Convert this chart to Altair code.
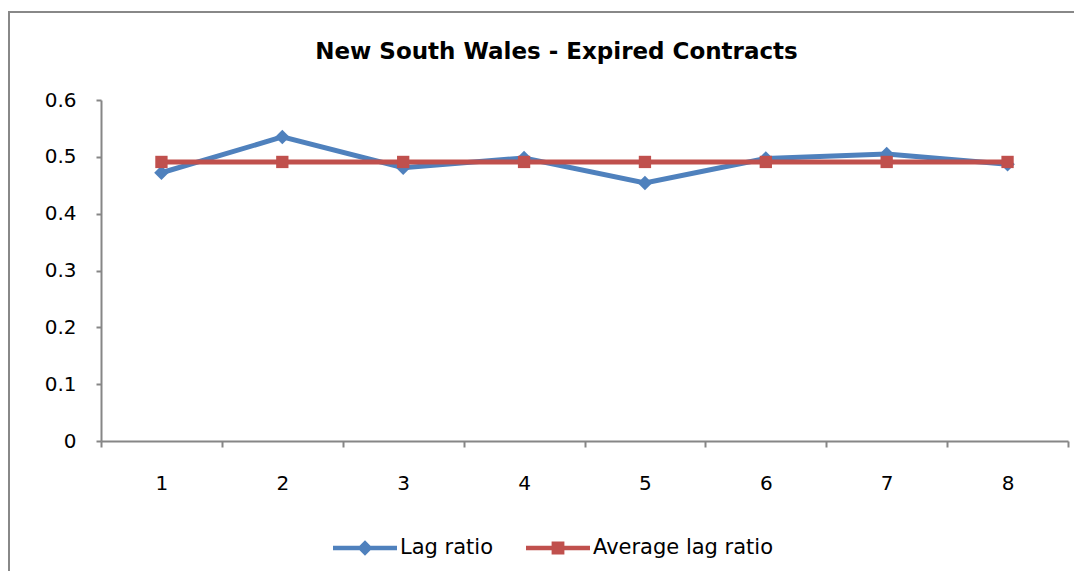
import altair as alt
import pandas as pd

periods = ["1", "2", "3", "4", "5", "6", "7", "8"]
lag_ratio = [0.472, 0.535, 0.481, 0.498, 0.454, 0.497, 0.505, 0.487]
avg_lag_ratio = [0.491] * 8
series_names = ["Lag ratio", "Average lag ratio"]
series_colors = ["#4F81BD", "#C0504D"]
y_ticks = [0, 0.1, 0.2, 0.3, 0.4, 0.5, 0.6]

rows = []
for p, v in zip(periods, lag_ratio):
    rows.append({"period": p, "value": v, "series": series_names[0]})
for p, v in zip(periods, avg_lag_ratio):
    rows.append({"period": p, "value": v, "series": series_names[1]})
df = pd.DataFrame(rows)

FONT = "DejaVu Sans"
DIAMOND = "M0,-1L1,0L0,1L-1,0Z"
SQUARE = "M-0.85,-0.85L0.85,-0.85L0.85,0.85L-0.85,0.85Z"
LEG_DIAMOND = "M-1,-0.07L1,-0.07L1,0.07L-1,0.07Z M0,-0.24L0.24,0L0,0.24L-0.24,0Z"
LEG_SQUARE = "M-1,-0.07L1,-0.07L1,0.07L-1,0.07Z M-0.2,-0.2L0.2,-0.2L0.2,0.2L-0.2,0.2Z"
marker_paths = [DIAMOND, SQUARE]

x_enc = alt.X(
    "period:O",
    sort=periods,
    scale=alt.Scale(paddingInner=0, paddingOuter=0, round=False),
    axis=alt.Axis(
        title=None, labelAngle=0, tickBand="extent", tickSize=6,
        labelPadding=26, labelFontSize=20, labelFont=FONT, labelColor="#000",
        domainColor="#868686", domainWidth=2, tickColor="#868686", tickWidth=2,
        grid=False,
    ),
)
y_enc = alt.Y(
    "value:Q",
    scale=alt.Scale(domain=[0, 0.6], nice=False),
    axis=alt.Axis(
        title=None, values=y_ticks, format=".1~f", tickSize=5,
        labelPadding=20, labelFontSize=20, labelFont=FONT, labelColor="#000",
        domainColor="#868686", domainWidth=2, tickColor="#868686", tickWidth=2,
        grid=False,
    ),
)
color_scale = alt.Scale(domain=series_names, range=series_colors)
color_plain = alt.Color("series:N", scale=color_scale, legend=None)

legend_def = alt.Legend(
    title=None, orient="none", direction="horizontal",
    legendX=232, legendY=416,
    symbolSize=4096, symbolStrokeWidth=0, symbolOpacity=1, labelOffset=3,
    columnPadding=33, labelFontSize=21, labelLimit=400, labelFont=FONT, labelColor="#000",
)

base = alt.Chart(df)
layers = []
for name, path in zip(series_names, marker_paths):
    sub = base.transform_filter(alt.datum.series == name)
    layers.append(sub.mark_line(strokeWidth=5).encode(x=x_enc, y=y_enc, color=color_plain))
    layers.append(
        sub.mark_point(filled=True, size=210, opacity=1, shape=path).encode(
            x=x_enc, y=y_enc, color=color_plain
        )
    )

legend_layer = base.mark_point(filled=True, opacity=0).encode(
    x=x_enc, y=y_enc,
    color=alt.Color("series:N", scale=color_scale, legend=legend_def),
    shape=alt.Shape("series:N", scale=alt.Scale(domain=series_names, range=[LEG_DIAMOND, LEG_SQUARE]), legend=legend_def),
)

border = alt.Chart(pd.DataFrame({"a": [0]})).mark_rect(
    fillOpacity=0, stroke="#888888", strokeWidth=2
).encode(
    x=alt.value(-92), x2=alt.value(2000), y=alt.value(-88), y2=alt.value(2000)
)

chart = alt.layer(border, legend_layer, *layers).properties(
    width=967,
    height=341,
    autosize=alt.AutoSizeParams(type="none"),
    padding={"left": 93, "top": 92, "right": 6, "bottom": 130},
    title=alt.TitleParams(
        "New South Wales - Expired Contracts",
        fontSize=23, font=FONT, fontWeight="bold", color="#000",
        anchor="middle", frame="group", dx=-28, offset=-53,
    ),
).configure_view(stroke=None)

chart.save("out.html", embed_options={"renderer": "svg", "actions": False})
